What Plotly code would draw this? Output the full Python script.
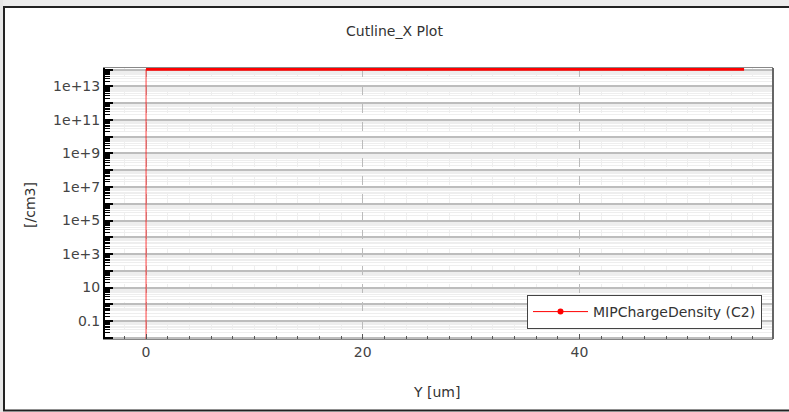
import plotly.graph_objects as go

# Cutline samples along Y (um) and MIP charge density (/cm3)
y_pos_um = [0.0, 0.0, 55.2]
mip_density = [1e-10, 1.07e14, 1.07e14]

series_name = "MIPChargeDensity (C2)"
title_text = "Cutline_X Plot"
x_title = "Y [um]"
y_title = "[/cm3]"

# decade ticks, labelled every second decade
decades = list(range(-2, 15))
y_tickvals = [10.0 ** k for k in decades]
y_ticktext = [("" if k % 2 == 0 else ("0.1" if k == -1 else ("10" if k == 1 else f"1e+{k}"))) for k in decades]

RED = "#ff0000"
FONT = "DejaVu Sans"
FS = 14

fig = go.Figure()

# full profile as a thin line (includes the step at Y=0)
fig.add_trace(go.Scatter(
    x=y_pos_um, y=mip_density, mode="lines",
    line=dict(color="rgba(255,0,0,0.75)", width=1),
    showlegend=False, hoverinfo="skip",
))
# plateau drawn as a thick band
fig.add_trace(go.Scatter(
    x=y_pos_um[1:], y=mip_density[1:], mode="lines",
    line=dict(color=RED, width=3),
    showlegend=False,
))
# legend entry
fig.add_trace(go.Scatter(
    x=[None], y=[None], mode="lines+markers", name=series_name,
    line=dict(color=RED, width=1), marker=dict(color=RED, size=6),
))

L, R, T, B = 105, 16, 68, 73
W, H = 789, 412
pw, ph = W - L - R, H - T - B


def px_x(p):
    return (p - L) / pw


def px_y(p):
    return (H - B - p) / ph


fig.update_layout(
    width=W, height=H,
    margin=dict(l=L, r=R, t=T, b=B),
    paper_bgcolor="white", plot_bgcolor="white",
    font=dict(family=FONT, size=FS, color="#444"),
    title=dict(text=title_text, x=0.5, xref="container", xanchor="center",
               y=1 - 31 / H, yanchor="middle", yref="container",
               font=dict(family=FONT, size=FS, color="#333")),
    showlegend=True,
    legend=dict(x=px_x(762), y=px_y(329), xanchor="right", yanchor="bottom",
                bgcolor="white", bordercolor="#444", borderwidth=1,
                font=dict(family=FONT, size=FS, color="#333"),
                itemwidth=55),
    xaxis=dict(
        range=[-3.79, 57.87], tick0=0, dtick=20,
        ticks="inside", ticklen=5, tickcolor="#555", tickwidth=1,
        showgrid=True, gridcolor="#bbbbbb", griddash="dash", gridwidth=1,
        zeroline=False, showline=True, linecolor="#888", linewidth=1, mirror=True,
        minor=dict(dtick=2, ticks="inside", ticklen=3, tickcolor="#555",
                   showgrid=True, gridcolor="#eeeeee", gridwidth=1),
        tickfont=dict(family=FONT, size=FS, color="#444"),
    ),
    yaxis=dict(
        type="log", range=[-2.07, 14.10],
        tickmode="array", tickvals=y_tickvals, ticktext=y_ticktext,
        ticks="inside", ticklen=8, tickcolor="#000", tickwidth=2,
        showgrid=True, gridcolor="#bdbdbd", gridwidth=1.5,
        zeroline=False, showline=True, linecolor="#000", linewidth=2,
        minor=dict(dtick="D1", ticks="inside", ticklen=5, tickcolor="#000", tickwidth=1,
                   showgrid=True, gridcolor="#eeeeee", gridwidth=1),
        tickfont=dict(family=FONT, size=FS, color="#444"),
    ),
    annotations=[
        dict(text=x_title, xref="paper", yref="paper", x=px_x(436), y=px_y(392),
             xanchor="center", yanchor="middle",
             showarrow=False, font=dict(family=FONT, size=FS, color="#333")),
        dict(text=y_title, xref="paper", yref="paper", x=px_x(30), y=px_y(205),
             xanchor="center", yanchor="middle",
             showarrow=False, textangle=-90, font=dict(family=FONT, size=FS, color="#333")),
    ],
    shapes=[
        # right border of the plot frame
        dict(type="line", xref="paper", yref="paper", x0=1, x1=1, y0=0, y1=1,
             line=dict(color="#666", width=2), layer="above"),
        # window chrome strips
        dict(type="rect", xref="paper", yref="paper", x0=px_x(0), x1=px_x(W), y0=px_y(0), y1=px_y(6),
             fillcolor="#ececec", line=dict(width=0), layer="above"),
        dict(type="rect", xref="paper", yref="paper", x0=px_x(0), x1=px_x(3), y0=px_y(0), y1=px_y(H),
             fillcolor="#e6e6e6", line=dict(width=0), layer="above"),
        # outer frame
        dict(type="rect", xref="paper", yref="paper", x0=px_x(4), x1=px_x(W + 10),
             y0=px_y(410.5), y1=px_y(7),
             line=dict(color="#222", width=2), layer="above"),
    ],
)

fig.write_html("out.html")
